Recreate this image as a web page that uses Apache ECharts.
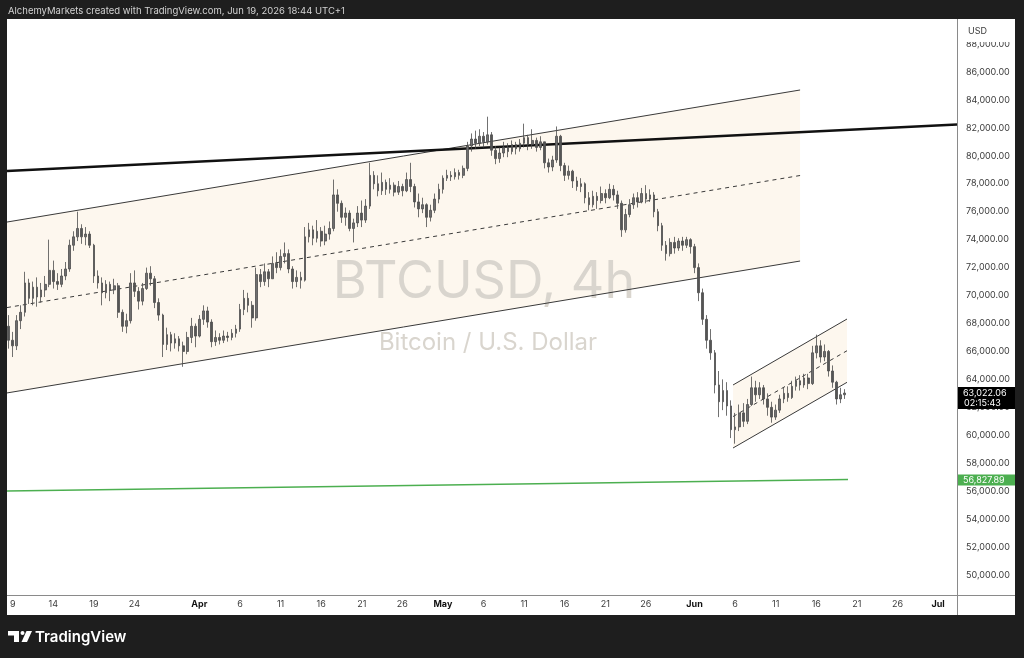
<!DOCTYPE html>
<html>
<head>
<meta charset="utf-8">
<title>BTCUSD, 4h</title>
<script src="https://cdn.jsdelivr.net/npm/echarts@6/dist/echarts.min.js"></script>
<style>
  html, body { margin: 0; padding: 0; background: #1e1e1e; }
  #chart { width: 1024px; height: 658px; }
</style>
</head>
<body>
<div id="chart"></div>
<script>
  // x = days counted from 9 Mar 2026 00:00, prices in thousands of USD
  const xTickDays = [0, 5, 10, 15, 23, 28, 33, 38, 43, 48, 53, 58, 63, 68, 73, 78, 84, 89, 94, 99, 104, 109, 114]
  const xTickLabels = ['9', '14', '19', '24', 'Apr', '6', '11', '16', '21', '26', 'May', '6', '11', '16', '21', '26', 'Jun', '6', '11', '16', '21', '26', 'Jul']
  const monthLabels = ['Apr', 'May', 'Jun', 'Jul']
  const yTickValues = [50, 52, 54, 56, 58, 60, 62, 64, 66, 68, 70, 72, 74, 76, 78, 80, 82, 84, 86, 88]

  // one candle every half day, the first one opens 8 Mar 12:00
  const firstCandleDay = -0.5
  const candleStepDays = 0.5

  const opens = [
    67.8, 66.8, 66.4, 68.2, 68.8, 70.9, 69.8, 70.6, 69.9, 70.4,
    70.8, 71.8, 71.0, 70.8, 71.4, 71.9, 73.6, 74.2, 74.8, 74.2,
    74.4, 73.6, 71.4, 70.9, 70.2, 70.8, 70.4, 70.7, 68.8, 67.8,
    68.2, 70.9, 70.3, 69.6, 70.5, 71.6, 71.2, 69.5, 68.6, 66.5,
    67.2, 66.6, 66.9, 66.4, 66.0, 67.0, 67.8, 67.1, 68.3, 68.9,
    68.1, 66.7, 67.0, 66.8, 67.1, 67.0, 67.3, 67.6, 69.0, 69.8,
    69.3, 68.4, 71.5, 71.0, 71.7, 71.2, 72.3, 72.0, 72.8, 73.0,
    71.9, 71.0, 71.3, 71.1, 74.2, 74.7, 74.1, 74.6, 73.9, 74.4,
    74.8, 77.2, 76.6, 75.6, 75.9, 74.8, 75.2, 75.9, 75.4, 76.4,
    78.6, 78.0, 77.5, 78.1, 77.6, 77.9, 77.4, 77.8, 77.5, 78.3,
    77.8, 76.7, 76.2, 76.5, 75.6, 76.1, 76.9, 77.6, 78.4, 78.6,
    78.5, 78.8, 78.6, 79.1, 80.7, 81.2, 80.9, 81.4, 81.0, 81.5,
    80.4, 79.8, 80.2, 80.6, 80.3, 80.8, 80.5, 80.9, 81.3, 80.8,
    81.1, 80.6, 81.0, 79.5, 79.2, 79.7, 81.4, 79.3, 78.6, 78.9,
    78.2, 77.8, 78.0, 77.0, 76.5, 77.1, 76.8, 77.3, 77.0, 77.6,
    77.2, 76.6, 74.7, 75.8, 76.5, 77.0, 76.7, 77.3, 76.9, 77.2,
    76.0, 75.0, 73.6, 73.0, 73.8, 73.4, 73.9, 73.6, 74.0, 73.5,
    72.0, 70.2, 68.3, 66.8, 65.9, 63.6, 62.4, 63.2, 62.1, 60.4,
    60.6, 61.6, 61.0, 62.2, 63.4, 62.9, 63.4, 62.6, 62.0, 61.3,
    61.8, 62.6, 63.0, 62.7, 63.5, 63.9, 63.6, 64.1, 63.7, 65.9,
    66.4, 65.6, 66.0, 64.6, 63.8, 62.6, 62.9
  ]
  const closes = [
    66.8, 66.4, 68.2, 68.8, 70.9, 69.8, 70.6, 69.9, 70.4, 70.8,
    71.8, 71.0, 70.8, 71.4, 71.9, 73.6, 74.2, 74.8, 74.2, 74.4,
    73.6, 71.4, 70.9, 70.2, 70.8, 70.4, 70.7, 68.8, 67.8, 68.2,
    70.9, 70.3, 69.6, 70.5, 71.6, 71.2, 69.5, 68.6, 66.5, 67.2,
    66.6, 66.9, 66.4, 66.0, 67.0, 67.8, 67.1, 68.3, 68.9, 68.1,
    66.7, 67.0, 66.8, 67.1, 67.0, 67.3, 67.6, 69.0, 69.8, 69.3,
    68.4, 71.5, 71.0, 71.7, 71.2, 72.3, 72.0, 72.8, 73.0, 71.9,
    71.0, 71.3, 71.1, 74.2, 74.7, 74.1, 74.6, 73.9, 74.4, 74.8,
    77.2, 76.6, 75.6, 75.9, 74.8, 75.2, 75.9, 75.4, 76.4, 78.6,
    78.0, 77.5, 78.1, 77.6, 77.9, 77.4, 77.8, 77.5, 78.3, 77.8,
    76.7, 76.2, 76.5, 75.6, 76.1, 76.9, 77.6, 78.4, 78.6, 78.5,
    78.8, 78.6, 79.1, 80.7, 81.2, 80.9, 81.4, 81.0, 81.5, 80.4,
    79.8, 80.2, 80.6, 80.3, 80.8, 80.5, 80.9, 81.3, 80.8, 81.1,
    80.6, 81.0, 79.5, 79.2, 79.7, 81.4, 79.3, 78.6, 78.9, 78.2,
    77.8, 78.0, 77.0, 76.5, 77.1, 76.8, 77.3, 77.0, 77.6, 77.2,
    76.6, 74.7, 75.8, 76.5, 77.0, 76.7, 77.3, 76.9, 77.2, 76.0,
    75.0, 73.6, 73.0, 73.8, 73.4, 73.9, 73.6, 74.0, 73.5, 72.0,
    70.2, 68.3, 66.8, 65.9, 63.6, 62.4, 63.2, 62.1, 60.4, 60.6,
    61.6, 61.0, 62.2, 63.4, 62.9, 63.4, 62.6, 62.0, 61.3, 61.8,
    62.6, 63.0, 62.7, 63.5, 63.9, 63.6, 64.1, 63.7, 65.9, 66.4,
    65.6, 66.0, 64.6, 63.8, 62.6, 62.9, 63.02206
  ]
  const lows = [
    66.2, 65.6, 66.1, 67.6, 68.5, 69.4, 69.3, 69.2, 69.5, 69.9,
    70.6, 70.5, 70.4, 70.6, 71.1, 71.7, 73.2, 73.9, 73.7, 73.6,
    73.4, 70.9, 70.5, 69.3, 69.8, 69.6, 70.1, 68.4, 67.4, 67.3,
    68.0, 69.9, 69.0, 69.3, 70.4, 70.7, 69.1, 68.2, 65.6, 66.1,
    66.0, 66.2, 66.0, 64.9, 65.8, 66.6, 66.3, 67.0, 67.9, 67.7,
    66.3, 66.4, 66.5, 66.6, 66.7, 66.8, 67.0, 67.4, 68.6, 68.8,
    67.7, 68.2, 70.6, 70.7, 70.6, 71.2, 71.6, 71.8, 72.3, 71.6,
    70.5, 70.6, 70.5, 71.0, 73.8, 73.6, 73.8, 73.5, 73.6, 74.0,
    74.6, 76.0, 75.2, 75.0, 74.6, 73.8, 74.9, 74.9, 75.2, 76.2,
    77.6, 77.1, 77.2, 77.2, 77.3, 77.1, 77.2, 77.1, 77.4, 77.4,
    76.3, 75.6, 75.9, 74.9, 75.3, 75.9, 76.6, 77.3, 78.2, 78.2,
    78.3, 78.3, 78.4, 78.9, 80.3, 80.5, 80.7, 80.6, 80.8, 80.0,
    79.4, 79.5, 79.9, 79.9, 80.1, 80.1, 80.3, 80.6, 80.4, 80.5,
    80.3, 80.4, 79.1, 78.8, 78.9, 79.5, 78.9, 78.2, 78.3, 77.7,
    77.5, 77.4, 76.6, 76.1, 76.3, 76.2, 76.6, 76.6, 76.9, 76.8,
    76.2, 74.2, 74.5, 75.6, 76.2, 76.3, 76.6, 76.6, 76.7, 75.6,
    74.6, 73.2, 72.5, 72.8, 73.0, 73.2, 73.2, 73.4, 73.0, 71.6,
    69.6, 67.9, 66.2, 65.4, 63.0, 61.3, 61.8, 61.4, 59.8, 59.4,
    60.3, 60.6, 60.8, 62.1, 62.4, 62.6, 62.2, 61.4, 60.9, 61.1,
    61.6, 62.3, 62.4, 62.6, 63.2, 63.2, 63.4, 63.3, 63.6, 65.5,
    65.2, 65.3, 64.2, 63.4, 62.2, 62.3, 62.6
  ]
  const highs = [
    68.6, 67.4, 68.6, 69.3, 71.7, 71.2, 71.0, 71.3, 70.9, 71.4,
    74.0, 72.5, 71.6, 71.9, 72.4, 74.0, 74.6, 76.0, 75.1, 74.9,
    74.6, 73.7, 71.8, 71.3, 71.1, 71.0, 71.2, 70.9, 69.0, 68.7,
    71.6, 71.8, 70.6, 70.9, 72.0, 72.1, 71.4, 69.8, 68.7, 67.7,
    67.4, 67.3, 67.1, 66.7, 67.4, 68.4, 68.0, 68.6, 69.3, 69.2,
    68.3, 67.5, 67.3, 67.5, 67.4, 67.6, 67.9, 69.4, 70.4, 70.2,
    69.6, 72.0, 71.9, 72.3, 71.9, 72.8, 73.1, 73.3, 73.8, 73.3,
    72.1, 71.8, 71.7, 74.9, 75.2, 75.0, 75.4, 74.9, 75.0, 75.3,
    78.3, 77.6, 76.8, 76.3, 76.1, 75.5, 76.4, 76.8, 76.9, 79.5,
    78.9, 78.6, 78.8, 78.3, 78.4, 78.1, 78.2, 78.0, 78.8, 79.5,
    78.0, 77.3, 77.0, 76.6, 76.5, 77.3, 78.0, 78.6, 79.0, 78.9,
    79.1, 79.0, 79.3, 81.0, 81.6, 81.8, 81.9, 81.7, 82.8, 81.7,
    80.7, 80.6, 81.0, 80.9, 81.1, 81.0, 81.2, 82.3, 81.5, 81.9,
    81.3, 81.4, 81.0, 79.8, 80.0, 82.1, 81.5, 79.5, 79.3, 79.0,
    78.5, 78.4, 78.1, 77.4, 77.5, 77.4, 77.8, 77.6, 78.0, 77.9,
    77.5, 76.8, 76.2, 76.9, 77.3, 77.4, 77.7, 77.9, 77.6, 77.4,
    76.2, 75.2, 73.9, 74.1, 74.2, 74.1, 74.2, 74.2, 74.1, 73.7,
    72.3, 70.5, 68.6, 67.6, 66.1, 64.6, 64.0, 63.8, 62.5, 61.6,
    62.2, 62.3, 62.6, 64.2, 63.9, 63.8, 63.6, 63.0, 62.4, 62.2,
    62.9, 63.4, 63.5, 63.9, 64.2, 64.3, 64.4, 64.4, 66.4, 67.2,
    66.8, 66.5, 66.1, 65.0, 63.9, 63.4, 63.3
  ]

  // drawings: [startDay, startPrice, endDay, endPrice]
  const bigChannelTop = [-0.7, 75.26, 97.0, 84.71]
  const bigChannelMid = [-0.7, 69.14, 97.0, 78.59]
  const bigChannelBottom = [-0.7, 63.03, 97.0, 72.47]
  const smallChannelTop = [88.74, 63.60, 102.78, 68.32]
  const smallChannelMid = [88.74, 61.34, 102.78, 66.05]
  const smallChannelBottom = [88.74, 59.09, 102.78, 63.79]
  const resistanceLine = [-0.7, 78.91, 116.33, 82.24]
  const supportLine = [-0.7, 56.01, 102.9, 56.82789]

  const xMin = -0.7
  const xMax = 116.33
  const yMin = 48.57
  const yMax = 89.79

  const candles = closes.map((c, i) => [firstCandleDay + i * candleStepDays, opens[i], c, lows[i], highs[i]])

  const fmtPrice = v => (v * 1000).toLocaleString('en-US', { minimumFractionDigits: 2, maximumFractionDigits: 2 })
  const font = 'Inter, "Liberation Sans", sans-serif'

  function segment(line, color, width, type) {
    return {
      type: 'line',
      z: 3,
      silent: true,
      symbol: 'none',
      animation: false,
      data: [[line[0], line[1]], [line[2], line[3]]],
      lineStyle: { color: color, width: width, type: type || 'solid' }
    }
  }

  // shaded area between the two rails of a channel
  function channelFill(top, bottom, color) {
    return {
      type: 'custom',
      z: 1,
      silent: true,
      data: [[top[0], top[2], top[1], top[3], bottom[1], bottom[3]]],
      encode: { x: [0, 1], y: [2, 3, 4, 5] },
      renderItem: (params, api) => ({
        type: 'polygon',
        shape: {
          points: [
            api.coord([api.value(0), api.value(2)]),
            api.coord([api.value(1), api.value(3)]),
            api.coord([api.value(1), api.value(5)]),
            api.coord([api.value(0), api.value(4)])
          ]
        },
        style: { fill: color }
      })
    }
  }

  const chart = echarts.init(document.getElementById('chart'))
  chart.setOption({
    backgroundColor: '#ffffff',
    animation: false,
    grid: { left: 7, right: 67, top: 19, bottom: 63, containLabel: false, outerBoundsMode: 'none' },
    xAxis: {
      type: 'value',
      min: xMin,
      max: xMax,
      axisLine: { show: false },
      axisTick: { show: false },
      splitLine: { show: false },
      axisLabel: {
        customValues: xTickDays,
        margin: 5,
        color: '#3b3b3b',
        fontFamily: font,
        fontSize: 9,
        formatter: v => {
          const label = xTickLabels[xTickDays.indexOf(v)]
          return monthLabels.includes(label) ? '{m|' + label + '}' : label
        },
        rich: { m: { fontWeight: 'bold', color: '#111', fontFamily: font, fontSize: 9 } }
      }
    },
    yAxis: {
      type: 'value',
      position: 'right',
      min: yMin,
      max: yMax,
      axisLine: { show: false },
      axisTick: { show: false },
      splitLine: { show: false },
      axisLabel: {
        customValues: yTickValues,
        margin: 9,
        color: '#3b3b3b',
        fontFamily: font,
        fontSize: 9,
        formatter: fmtPrice
      }
    },
    series: [
      channelFill(bigChannelTop, bigChannelBottom, '#fdf7ee'),
      channelFill(smallChannelTop, smallChannelBottom, '#fdf7ee'),
      segment(bigChannelTop, '#3a3a3a', 1),
      segment(bigChannelBottom, '#3a3a3a', 1),
      segment(bigChannelMid, '#3a3a3a', 1, [4, 4]),
      segment(smallChannelTop, '#3a3a3a', 1),
      segment(smallChannelBottom, '#3a3a3a', 1),
      segment(smallChannelMid, '#3a3a3a', 1, [4, 4]),
      segment(resistanceLine, '#111111', 2.5),
      segment(supportLine, '#4caf50', 1.5),
      {
        type: 'candlestick',
        z: 4,
        barWidth: 2.2,
        dimensions: ['day', 'open', 'close', 'lowest', 'highest'],
        encode: { x: 'day', y: ['open', 'close', 'lowest', 'highest'] },
        data: candles,
        itemStyle: {
          color: '#6f6f6f',
          color0: '#555555',
          borderColor: '#4d4d4d',
          borderColor0: '#4d4d4d',
          borderWidth: 0.8
        }
      }
    ]
  })

  // price tags sit on the axis at the value of the last close and of the support line
  const lastClose = closes[closes.length - 1]
  const yLast = chart.convertToPixel({ yAxisIndex: 0 }, lastClose)
  const ySupport = chart.convertToPixel({ yAxisIndex: 0 }, supportLine[3])
  const dark = '#1e1e1e'

  chart.setOption({
    graphic: [
      // watermark
      { type: 'text', z: 2, silent: true, x: 484, y: 282,
        style: { text: 'BTCUSD, 4h', fill: '#d9d5ce', font: '52px ' + font, align: 'center', verticalAlign: 'middle' } },
      { type: 'text', z: 2, silent: true, x: 488, y: 343,
        style: { text: 'Bitcoin / U.S. Dollar', fill: '#d9d5ce', font: '24px ' + font, align: 'center', verticalAlign: 'middle' } },
      // pane borders
      { type: 'line', z: 15, silent: true, shape: { x1: 957.5, y1: 19, x2: 957.5, y2: 615 }, style: { stroke: '#8a8a8a', lineWidth: 1 } },
      { type: 'line', z: 15, silent: true, shape: { x1: 7, y1: 595.5, x2: 1015, y2: 595.5 }, style: { stroke: '#8a8a8a', lineWidth: 1 } },
      // currency label above the price scale
      { type: 'rect', z: 15, silent: true, shape: { x: 958, y: 19, width: 57, height: 23 }, style: { fill: '#ffffff' } },
      { type: 'text', z: 16, silent: true, x: 968, y: 31,
        style: { text: 'USD', fill: '#3b3b3b', font: '9px ' + font, verticalAlign: 'middle' } },
      // last price tag
      { type: 'rect', z: 22, silent: true, shape: { x: 958, y: yLast - 6, width: 57, height: 22 }, style: { fill: '#000000' } },
      { type: 'text', z: 23, silent: true, x: 963, y: yLast,
        style: { text: fmtPrice(lastClose), fill: '#ffffff', font: '9px ' + font, verticalAlign: 'middle' } },
      { type: 'text', z: 23, silent: true, x: 964, y: yLast + 10,
        style: { text: '02:15:43', fill: '#ffffff', font: '9px ' + font, verticalAlign: 'middle' } },
      // support line tag
      { type: 'rect', z: 22, silent: true, shape: { x: 958, y: ySupport - 5, width: 57, height: 11 }, style: { fill: '#4caf50' } },
      { type: 'text', z: 23, silent: true, x: 963, y: ySupport + 0.5,
        style: { text: fmtPrice(supportLine[3]), fill: '#ffffff', font: '9px ' + font, verticalAlign: 'middle' } },
      // dark frame
      { type: 'rect', z: 20, silent: true, shape: { x: 0, y: 0, width: 1024, height: 19 }, style: { fill: dark } },
      { type: 'rect', z: 20, silent: true, shape: { x: 0, y: 0, width: 7, height: 658 }, style: { fill: dark } },
      { type: 'rect', z: 20, silent: true, shape: { x: 1015, y: 0, width: 9, height: 658 }, style: { fill: dark } },
      { type: 'rect', z: 20, silent: true, shape: { x: 0, y: 615, width: 1024, height: 43 }, style: { fill: dark } },
      { type: 'text', z: 21, silent: true, x: 8, y: 11,
        style: { text: 'AlchemyMarkets created with TradingView.com, Jun 19, 2026 18:44 UTC+1', fill: '#d2d2d2', font: '9.5px ' + font, verticalAlign: 'middle' } },
      // TradingView logo
      { type: 'polygon', z: 21, silent: true,
        shape: { points: [[8, 631], [19, 631], [19, 642], [14, 642], [14, 635.5], [8, 635.5]] }, style: { fill: '#ffffff' } },
      { type: 'circle', z: 21, silent: true, shape: { cx: 22.5, cy: 633, r: 2 }, style: { fill: '#ffffff' } },
      { type: 'polygon', z: 21, silent: true,
        shape: { points: [[26.5, 631], [32, 631], [27, 642], [21.5, 642]] }, style: { fill: '#ffffff' } },
      { type: 'text', z: 21, silent: true, x: 35, y: 637,
        style: { text: 'TradingView', fill: '#ffffff', font: '600 15px ' + font, verticalAlign: 'middle' } }
    ]
  })
</script>
</body>
</html>
